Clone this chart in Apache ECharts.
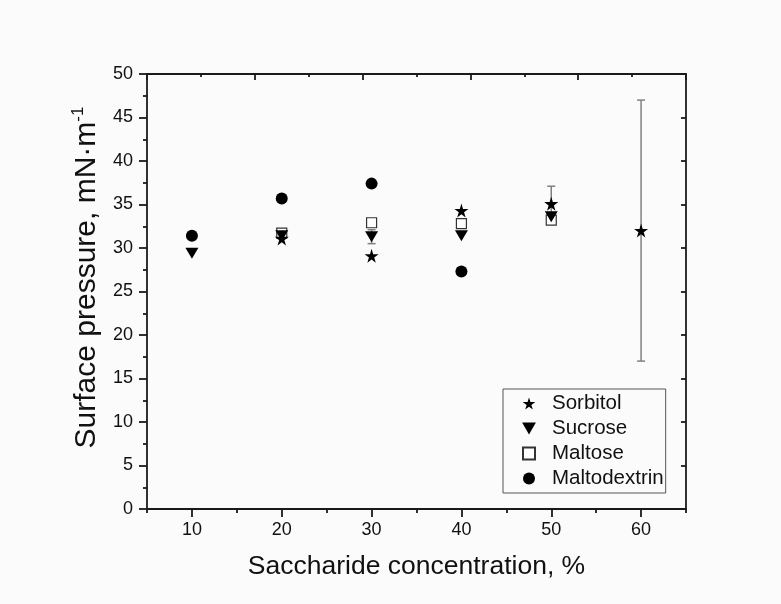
<!DOCTYPE html>
<html>
<head>
<meta charset="utf-8">
<script src="https://cdn.jsdelivr.net/npm/echarts@6/dist/echarts.min.js"></script>
<style>
  html, body { margin: 0; padding: 0; background: #fbfbfb; }
  #chart { width: 781px; height: 604px; }
</style>
</head>
<body>
<div id="chart"></div>
<script>
const concentrations = [10, 20, 30, 40, 50, 60]
const sorbitol = [null, 31.1, 29.1, 34.3, 35.1, 32.0]
const sucrose = [29.4, 31.4, 31.3, 31.4, 33.6, null]
const maltose = [null, 31.7, 32.9, 32.8, 33.2, null]
const maltodextrin = [31.4, 35.7, 37.4, 27.3, null, null]
const sorbitolErr = [0, 0, 0, 0, 2.0, 15.0]
const sucroseErr = [0, 0, 0.8, 0, 0, 0]
const xTicks = [10, 20, 30, 40, 50, 60]
const xMinorTicks = [5, 15, 25, 35, 45, 55, 65]

const FONT = "'Liberation Sans', Arial, sans-serif"
const STAR = 'path://M50,0 L61,35 L98,35 L68,57 L79,91 L50,70 L21,91 L32,57 L2,35 L39,35 Z'
const TRI_DOWN = 'path://M0,0 L100,0 L50,87 Z'
const SQUARE = 'path://M0,0 L10,0 L10,10 L0,10 Z'

const pairs = ys => concentrations.map((x, i) => [x, ys[i]]).filter(p => p[1] != null)

const errData = (ys, errs) => concentrations
  .map((x, i) => [x, ys[i] - errs[i], ys[i] + errs[i]])
  .filter((d, i) => ys[i] != null && errs[i] > 0)

function renderErr(params, api) {
  const x = api.value(0)
  const top = api.coord([x, api.value(2)])
  const bot = api.coord([x, api.value(1)])
  const w = 4
  const style = { stroke: '#808080', lineWidth: 1.5 }
  return {
    type: 'group',
    children: [
      { type: 'line', shape: { x1: top[0], y1: top[1], x2: bot[0], y2: bot[1] }, style },
      { type: 'line', shape: { x1: top[0] - w, y1: top[1], x2: top[0] + w, y2: top[1] }, style },
      { type: 'line', shape: { x1: bot[0] - w, y1: bot[1], x2: bot[0] + w, y2: bot[1] }, style }
    ]
  }
}

const chart = echarts.init(document.getElementById('chart'))

const lineStyle = { color: '#1a1a1a', width: 1.8 }

chart.setOption({
  backgroundColor: '#fbfbfb',
  animation: false,
  textStyle: { fontFamily: FONT },
  grid: { left: 147, right: 95, top: 74, bottom: 95, containLabel: false },
  legend: {
    data: [
      { name: 'Sorbitol', icon: STAR },
      { name: 'Sucrose', icon: TRI_DOWN },
      { name: 'Maltose', icon: SQUARE },
      { name: 'Maltodextrin', icon: 'circle' }
    ],
    orient: 'vertical',
    left: 503,
    top: 389,
    padding: [4, 2, 4, 19],
    itemWidth: 14,
    itemHeight: 12,
    itemGap: 4,
    borderColor: '#555',
    borderWidth: 1,
    borderRadius: 0,
    textStyle: { fontFamily: FONT, fontSize: 20.5, color: '#111', padding: [0, 0, 0, 11] }
  },
  xAxis: [
    {
      type: 'value',
      position: 'bottom',
      min: 5,
      max: 65,
      interval: 5,
      name: 'Saccharide concentration, %',
      nameLocation: 'middle',
      nameGap: 44,
      nameTextStyle: { fontFamily: FONT, fontSize: 26.5, color: '#111' },
      axisLine: { show: true, onZero: false, lineStyle },
      axisTick: { show: true, customValues: xTicks, length: 8, lineStyle },
      axisLabel: { show: true, customValues: xTicks, margin: 12, fontFamily: FONT, fontSize: 18, color: '#111' },
      splitLine: { show: false }
    },
    {
      type: 'value',
      position: 'bottom',
      min: 5,
      max: 65,
      interval: 5,
      axisLine: { show: false, onZero: false },
      axisTick: { show: true, customValues: xMinorTicks, length: 4, lineStyle },
      axisLabel: { show: false },
      splitLine: { show: false }
    },
    {
      type: 'value',
      position: 'top',
      min: 0,
      max: 5,
      interval: 1,
      axisLine: { show: true, onZero: false, lineStyle },
      axisTick: { show: true, inside: true, length: 6, lineStyle },
      minorTick: { show: true, splitNumber: 2, length: 3, lineStyle },
      axisLabel: { show: false },
      splitLine: { show: false }
    }
  ],
  yAxis: [
    {
      type: 'value',
      position: 'left',
      min: 0,
      max: 50,
      interval: 5,
      name: '{t|Surface pressure, mN·m}{s|-1}',
      nameLocation: 'middle',
      nameGap: 41,
      nameRotate: 90,
      nameTextStyle: {
        rich: {
          t: { fontFamily: FONT, fontSize: 30, color: '#111', lineHeight: 35, padding: [0, 0, 0, 28] },
          s: { fontFamily: FONT, fontSize: 17, color: '#111', verticalAlign: 'top', lineHeight: 35 }
        }
      },
      axisLine: { show: true, onZero: false, lineStyle },
      axisTick: { show: true, length: 8, lineStyle },
      minorTick: { show: true, splitNumber: 2, length: 4, lineStyle },
      axisLabel: { margin: 14, fontFamily: FONT, fontSize: 18, color: '#111' },
      splitLine: { show: false }
    },
    {
      type: 'value',
      position: 'right',
      min: 0,
      max: 50,
      interval: 5,
      axisLine: { show: true, onZero: false, lineStyle },
      axisTick: { show: true, inside: true, length: 5, lineStyle },
      axisLabel: { show: false },
      splitLine: { show: false }
    }
  ],
  series: [
    {
      type: 'custom',
      renderItem: renderErr,
      data: errData(sorbitol, sorbitolErr).concat(errData(sucrose, sucroseErr)),
      encode: { x: 0, y: [1, 2] },
      z: 1,
      silent: true
    },
    {
      name: 'Maltose',
      type: 'scatter',
      data: pairs(maltose),
      symbol: SQUARE,
      symbolSize: 10,
      itemStyle: { color: '#ffffff', borderColor: '#333', borderWidth: 1.2, opacity: 1 },
      z: 2
    },
    {
      name: 'Sorbitol',
      type: 'scatter',
      data: pairs(sorbitol),
      symbol: STAR,
      symbolSize: 14,
      itemStyle: { color: '#000', opacity: 1 },
      z: 3
    },
    {
      name: 'Sucrose',
      type: 'scatter',
      data: pairs(sucrose),
      symbol: TRI_DOWN,
      symbolSize: [13, 11],
      itemStyle: { color: '#000', opacity: 1 },
      z: 4
    },
    {
      name: 'Maltodextrin',
      type: 'scatter',
      data: pairs(maltodextrin),
      symbol: 'circle',
      symbolSize: 12,
      itemStyle: { color: '#000', opacity: 1 },
      z: 5
    }
  ]
})
</script>
</body>
</html>
